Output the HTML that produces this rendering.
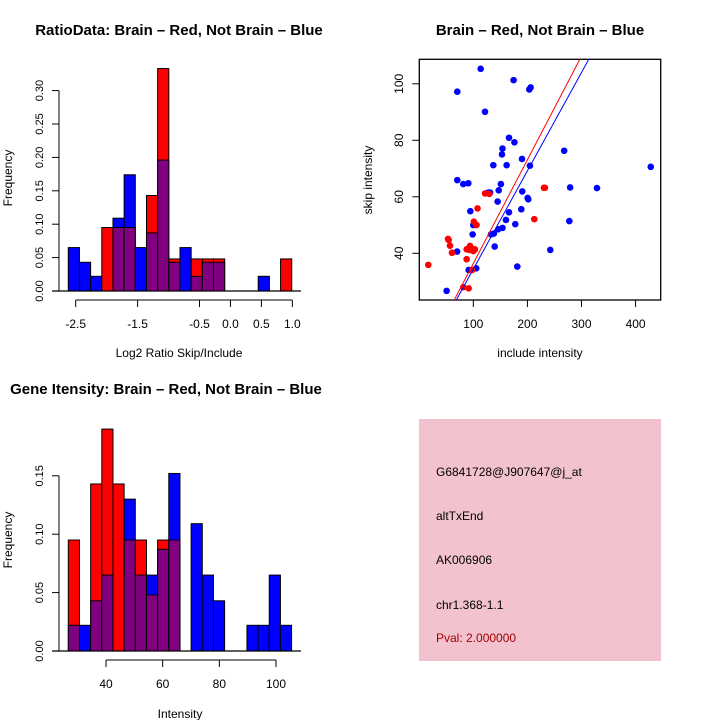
<!DOCTYPE html>
<html><head><meta charset="utf-8"><style>
body{margin:0;background:#fff}
svg{display:block;font-family:"Liberation Sans",sans-serif}
</style></head><body>
<svg id="c" width="720" height="720" xmlns="http://www.w3.org/2000/svg">
<rect width="720" height="720" fill="#fff"/>
<g id="g1"></g>
<g id="g2"></g>
<g id="g3"></g>
<g id="g4">
<rect x="419" y="419" width="242" height="242" fill="#f2c2ce"/>
<text x="436" y="476" font-size="12">G6841728@J907647@j_at</text>
<text x="436" y="520" font-size="12">altTxEnd</text>
<text x="436" y="564" font-size="12">AK006906</text>
<text x="436" y="609" font-size="12">chr1.368-1.1</text>
<text x="436" y="642" font-size="12" fill="#a00000">Pval: 2.000000</text>
</g>
</svg>
<script>
// Ratio histogram data
const ratioBlue = [0.065,0.043,0.022,0,0.109,0.174,0.065,0.087,0.196,0.043,0.065,0.022,0.043,0.043,0,0,0,0.022,0,0];
const ratioRed  = [0,0,0,0.095,0.095,0.095,0,0.143,0.333,0.048,0,0.048,0.048,0.048,0,0,0,0,0,0.048];
const ratioXTicks = [-2.5,-1.5,-0.5,0.0,0.5,1.0];
const ratioXTickLabels = ["-2.5","-1.5","-0.5","0.0","0.5","1.0"];
const ratioYTicks = [0,0.05,0.10,0.15,0.20,0.25,0.30];
const ratioYTickLabels = ["0.00","0.05","0.10","0.15","0.20","0.25","0.30"];
const ratioBinStart = -2.62, ratioBinWidth = 0.1805;
// Gene intensity histogram data
const intBlue = [0.022,0.022,0.043,0.065,0,0.130,0.065,0.065,0.087,0.152,0,0.109,0.065,0.043,0,0,0.022,0.022,0.065,0.022];
const intRed  = [0.095,0,0.143,0.190,0.143,0.095,0.095,0.048,0.095,0.095,0,0,0,0,0,0,0,0,0,0];
const intXTicks = [40,60,80,100];
const intYTicks = [0,0.05,0.10,0.15];
const intYTickLabels = ["0.00","0.05","0.10","0.15"];
const intBinStart = 26.7, intBinWidth = 3.94;
// Scatter data
const blueX = [113.6,174.5,203.5,206,70.4,121.6,166,176,154,268,153,190,137,161.6,204.7,428,70.4,81.5,90.8,151,127.7,131,147,279,328.6,190.5,200.4,201.6,145,94.5,188.7,166,160.4,177.6,277.5,100,154,146,138,132.7,98.8,139.5,242.3,70,105.5,91.4,181.3,50.7];
const blueY = [105.3,101.3,98.0,98.7,97.2,90.1,80.9,79.3,77.1,76.3,75.0,73.4,71.2,71.2,71,70.6,65.9,64.5,64.8,64.5,61.5,61.5,62.3,63.3,63.1,61.9,59.6,59.1,58.3,54.9,55.6,54.5,51.8,50.3,51.4,50,49,48.5,47,46.7,46.7,42.4,41.2,40.6,34.7,34.1,35.3,26.7];
const redX = [16.8,53.2,54.5,56.9,60.6,87.7,87.7,93.9,92.6,103,101,106,107.8,121.6,129.6,212.7,230.6,232.4,81.5,91.4,98.2,96,100];
const redY = [35.9,45.1,44.7,42.7,40.2,37.9,41.4,42.6,41.2,41.4,51.2,50,55.9,61.2,61,52.1,63.2,63.2,28,27.6,34.1,41.8,40.8];
const fitSlope = [0.367,0.348];
const fitIntercept = [-0.3,-0.4];
const fitColor = ["#ff0000","#0000ff"];
const scXTicks = [100,200,300,400];
const scYTicks = [40,60,80,100];

const NS="http://www.w3.org/2000/svg";
function mk(parent,tag,attrs){const e=document.createElementNS(NS,tag);for(const k in attrs)e.setAttribute(k,attrs[k]);parent.appendChild(e);return e;}
function txt(parent,x,y,s,size,extra){const t=mk(parent,'text',Object.assign({x:x,y:y,'font-size':size,'text-anchor':'middle'},extra||{}));t.textContent=s;return t;}

function hist(g,o){
  const X=v=>o.x0+(v-o.dx0)*o.xs, Y=v=>o.base-v*o.ys;
  for(let i=0;i<o.blue.length;i++){
    const l=X(o.binStart+i*o.binW), w=o.binW*o.xs, b=o.blue[i], r=o.red[i];
    const hi=Math.max(b,r), lo=Math.min(b,r);
    if(hi>0){const e=mk(g,'rect',{x:l,y:Y(hi),width:w,height:hi*o.ys,fill:b>=r?'#0000ff':'#ff0000',stroke:'#000','stroke-width':1});
      
      }
    if(lo>0){const e=mk(g,'rect',{x:l,y:Y(lo),width:w,height:lo*o.ys,fill:'#800080',stroke:'#000','stroke-width':1});
      
      }
  }
  mk(g,'line',{x1:52,x2:301,y1:o.base,y2:o.base,stroke:'#000','stroke-width':1.3});
  const ya=mk(g,'g',{});
  
  
  mk(ya,'line',{x1:59,x2:59,y1:Y(o.yt[0]),y2:Y(o.yt[o.yt.length-1]),stroke:'#000'});
  o.yt.forEach((v,i)=>{mk(ya,'line',{x1:52,x2:59,y1:Y(v),y2:Y(v),stroke:'#000'});
    txt(ya,0,0,o.ytl[i],11,{transform:`translate(43,${Y(v)}) rotate(-90)`});});
  const xa=mk(g,'g',{});
  
  
  mk(xa,'line',{x1:X(o.xt[0]),x2:X(o.xt[o.xt.length-1]),y1:o.axY,y2:o.axY,stroke:'#000'});
  o.xt.forEach((v,i)=>{mk(xa,'line',{x1:X(v),x2:X(v),y1:o.axY,y2:o.axY+7,stroke:'#000'});
    txt(xa,X(v),o.axY+28,o.xtl[i],12);});
}

const g1=document.getElementById('g1');
hist(g1,{blue:ratioBlue,red:ratioRed,binStart:ratioBinStart,binW:ratioBinWidth,x0:75.7,dx0:-2.5,xs:61.9,base:291,ys:668,
  yt:ratioYTicks,ytl:ratioYTickLabels,xt:ratioXTicks,xtl:ratioXTickLabels,axY:300});
txt(g1,179,35,'RatioData: Brain \u2013 Red, Not Brain \u2013 Blue',15,{'font-weight':'bold'});
txt(g1,179,357,'Log2 Ratio Skip/Include',12);
txt(g1,0,0,'Frequency',12,{transform:'translate(12,178) rotate(-90)'});

const g3=document.getElementById('g3');
hist(g3,{blue:intBlue,red:intRed,binStart:intBinStart,binW:intBinWidth,x0:106,dx0:40,xs:2.8333,base:651,ys:1168,
  yt:intYTicks,ytl:intYTickLabels,xt:intXTicks,xtl:intXTicks.map(String),axY:660});
txt(g3,166,394,'Gene Itensity: Brain \u2013 Red, Not Brain \u2013 Blue',15,{'font-weight':'bold'});
txt(g3,180,718,'Intensity',12);
txt(g3,0,0,'Frequency',12,{transform:'translate(12,540) rotate(-90)'});

// scatter
const g2=document.getElementById('g2');
const SX=v=>473.3+(v-100)*0.541, SY=v=>253.3-(v-40)*2.825;
const L=419.3,R=660.7,T=59.3,B=300;
const cp=mk(g2,'clipPath',{id:'clp'});
mk(cp,'rect',{x:L,y:T,width:R-L,height:B-T});
const frame=mk(g2,'rect',{x:L,y:T,width:R-L,height:B-T,fill:'none',stroke:'#000','stroke-width':1.3});


scXTicks.forEach(v=>{mk(g2,'line',{x1:SX(v),x2:SX(v),y1:B,y2:B+7,stroke:'#000'});txt(g2,SX(v),B+28,String(v),12);});
scYTicks.forEach(v=>{mk(g2,'line',{x1:L-7,x2:L,y1:SY(v),y2:SY(v),stroke:'#000'});txt(g2,0,0,String(v),12,{transform:`translate(403,${SY(v)}) rotate(-90)`});});
const pts=mk(g2,'g',{'clip-path':'url(#clp)'});
blueX.forEach((x,i)=>{const c=mk(pts,'circle',{cx:SX(x),cy:SY(blueY[i]),r:3.3,fill:'#0000ff'});
  
  });
redX.forEach((x,i)=>{const c=mk(pts,'circle',{cx:SX(x),cy:SY(redY[i]),r:3.3,fill:'#ff0000'});
  
  });
fitSlope.forEach((m,i)=>{const x1=0,x2=450;const l=mk(pts,'line',{x1:SX(x1),y1:SY(fitIntercept[i]+m*x1),x2:SX(x2),y2:SY(fitIntercept[i]+m*x2),stroke:fitColor[i],'stroke-width':1});
  
  });
txt(g2,540,35,'Brain \u2013 Red, Not Brain \u2013 Blue',15,{'font-weight':'bold'});
txt(g2,540,357,'include intensity',12);
txt(g2,0,0,'skip intensity',12,{transform:'translate(372,180) rotate(-90)'});
</script>
</body></html>
